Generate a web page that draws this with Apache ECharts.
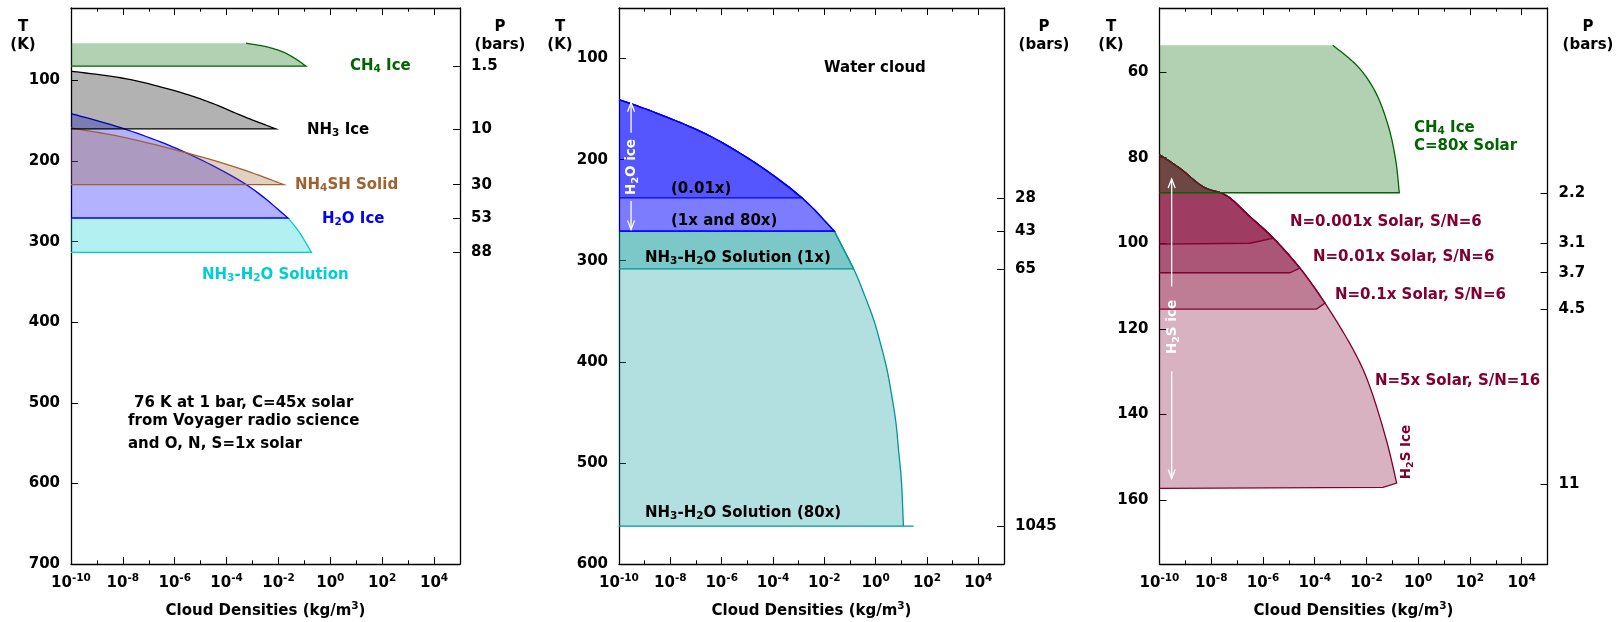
<!DOCTYPE html>
<html>
<head>
<meta charset="utf-8">
<title>Cloud densities</title>
<script src="https://cdn.jsdelivr.net/npm/echarts@6/dist/echarts.min.js"></script>
<style>
html, body { margin: 0; padding: 0; background: #fff; }
#main { width: 1623px; height: 622px; }
</style>
</head>
<body>
<div id="main"></div>
<script>
// x values: log10 of cloud density (kg/m3) ; y values: temperature (K)
// every cloud is a closed outline: (top-left corner), right edge, base, back to the left axis

// ---------- panel 1 : 76 K at 1 bar, C=45x solar ----------
var tTicks1 = [100, 200, 300, 400, 500, 600, 700];
var pTemps1 = [82.2, 160, 229.2, 270.6, 313.3];
var pLabels1 = ['1.5', '10', '30', '53', '88'];
var ch4Ice1 = [[-10, 53.7], [-3.25, 53.7], [-2.45, 58.2], [-1.81, 64.8], [-1.30, 73.9], [-0.94, 82.2], [-10, 82.2]];
var nh3Ice1 = [[-10, 88.4], [-7.86, 97.9], [-5.94, 113.3], [-4.65, 127], [-3.37, 144.3], [-2.47, 155.5], [-2.11, 160], [-10, 160]];
var nh4shSolid1 = [[-10, 158.8], [-7.86, 171.2], [-5.30, 191.9], [-3.37, 210.6], [-1.80, 229.2], [-10, 229.2]];
var h2oIce1 = [[-10, 141], [-7.86, 160.9], [-5.55, 189.8], [-3.24, 229.2], [-1.63, 270.6], [-10, 270.6]];
var solution1 = [[-10, 270.6], [-1.63, 270.6], [-1.18, 289], [-0.73, 313.3], [-10, 313.3]];

// ---------- panel 2 : water cloud ----------
var tTicks2 = [100, 200, 300, 400, 500, 600];
var pTemps2 = [237.8, 270.8, 308, 562.6];
var pLabels2 = ['28', '43', '65', '1045'];
var h2oIce001x = [[-10, 140.6], [-8.39, 155.4], [-6.44, 176.9], [-4.50, 206.5], [-2.87, 237.8], [-10, 237.8]];
var h2oIce1x80x = [[-10, 140.6], [-8.39, 155.4], [-6.44, 176.9], [-4.50, 206.5], [-2.87, 237.8], [-1.61, 270.8], [-10, 270.8]];
var solution1x = [[-10, 270.8], [-1.61, 270.8], [-0.86, 308], [-10, 308]];
var solution80x = [[-10, 270.8], [-1.61, 270.8], [-0.86, 308], [-0.47, 331.7], [-0.08, 358.2], [0.18, 381.2],
  [0.44, 407.6], [0.63, 434], [0.79, 460.3], [0.89, 486.7], [0.99, 513.2], [1.04, 536.2], [1.08, 562.6],
  [1.48, 562.6], [-10, 562.6]];
var h2oArrowUp = [[-9.53, 173.5], [-9.53, 143.8]];
var h2oArrowDown = [[-9.53, 241], [-9.53, 269]];

// ---------- panel 3 : C=80x, H2S ice ----------
var tTicks3 = [60, 80, 100, 120, 140, 160];
var pTemps3 = [88.2, 100, 106.9, 115.4, 156.3];
var pLabels3 = ['2.2', '3.1', '3.7', '4.5', '11'];
var ch4Ice3 = [[-10, 53.7], [-3.30, 53.7], [-2.33, 58.7], [-1.63, 64.9], [-1.15, 72.7], [-0.87, 80.5], [-0.73, 88.2], [-10, 88.2]];
var h2sN0001 = [[-10, 79.3], [-9.21, 82.5], [-8.31, 86.8], [-7.40, 88.9], [-6.50, 93.8], [-5.60, 98.8], [-6.50, 100], [-10, 100.2]];
var h2sN001 = [[-10, 79.3], [-9.21, 82.5], [-8.31, 86.8], [-7.40, 88.9], [-6.50, 93.8], [-5.60, 98.8], [-4.57, 105.8],
  [-4.96, 106.9], [-10, 106.9]];
var h2sN01 = [[-10, 79.3], [-9.21, 82.5], [-8.31, 86.8], [-7.40, 88.9], [-6.50, 93.8], [-5.60, 98.8], [-4.57, 105.8],
  [-3.60, 114.0], [-3.93, 115.4], [-10, 115.4]];
var h2sN5 = [[-10, 79.3], [-9.21, 82.5], [-8.31, 86.8], [-7.40, 88.9], [-6.50, 93.8], [-5.60, 98.8], [-4.57, 105.8],
  [-3.60, 114.0], [-2.51, 124.9], [-1.87, 133.5], [-1.23, 146], [-0.83, 156.1], [-1.36, 157.1], [-10, 157.3]];
var h2sArrowUp = [[-9.53, 110.1], [-9.53, 85]];
var h2sArrowDown = [[-9.53, 130], [-9.53, 155]];

// colours
var GREEN = '#006400', BLACK = '#000000', BROWN = '#9e6230', BLUE = '#0000ff',
    CYAN = '#00ced1', TEAL = '#009696', MAROON = '#800033';
function fade(hex) {
  var n = parseInt(hex.slice(1), 16);
  return 'rgba(' + (n >> 16) + ',' + ((n >> 8) & 255) + ',' + (n & 255) + ',0.3)';
}

var FONT = '"DejaVu Sans", sans-serif';
var FS = 15;
var sup = { fontSize: 10.5, lineHeight: 10, verticalAlign: 'top', fontWeight: 'bold', fontFamily: FONT };
var sub = { fontSize: 10.5, lineHeight: 10, verticalAlign: 'bottom', fontWeight: 'bold', fontFamily: FONT };

function pow10(v) {
  var e = Math.round(v);
  if (e % 2 !== 0) return '';
  return '10{p|' + e + '}';
}

var panels = [
  { left: 71, width: 389, tMin: 10, tMax: 700, tTicks: tTicks1, pTemps: pTemps1, pLabels: pLabels1 },
  { left: 619, width: 385, tMin: 50, tMax: 600, tTicks: tTicks2, pTemps: pTemps2, pLabels: pLabels2 },
  { left: 1159.5, width: 388, tMin: 45, tMax: 175, tTicks: tTicks3, pTemps: pTemps3, pLabels: pLabels3 }
];

var axisLine = { show: true, onZero: false, lineStyle: { color: '#000', width: 1.3 } };
var labelStyle = { color: '#000', fontFamily: FONT, fontWeight: 'bold', fontSize: FS };

var grids = [], xAxes = [], yAxes = [];
panels.forEach(function (p, gi) {
  grids.push({ left: p.left, width: p.width, top: 8, height: 556, containLabel: false, outerBoundsMode: 'none' });
  ['bottom', 'top'].forEach(function (pos) {
    xAxes.push({
      type: 'value', gridIndex: gi, position: pos, min: -10, max: 5, interval: 2,
      axisLine: axisLine,
      axisTick: { inside: true, length: 7, lineStyle: { color: '#000', width: 1 } },
      minorTick: { show: true, splitNumber: 2, length: 3.7, lineStyle: { color: '#000', width: 1 } },
      splitLine: { show: false },
      axisLabel: pos === 'bottom'
        ? Object.assign({ margin: 9, lineHeight: 20, formatter: pow10, rich: { p: sup } }, labelStyle)
        : { show: false },
      name: pos === 'bottom' ? 'Cloud Densities (kg/m{p|3})' : '',
      nameLocation: 'middle', nameGap: 37,
      nameTextStyle: Object.assign({ lineHeight: 20, rich: { p: sup } }, labelStyle)
    });
  });
  yAxes.push({
    type: 'value', gridIndex: gi, position: 'left', inverse: true, min: p.tMin, max: p.tMax,
    axisLine: axisLine,
    axisTick: { inside: true, length: 7, customValues: p.tTicks, lineStyle: { color: '#000', width: 1 } },
    axisLabel: Object.assign({ margin: 11, customValues: p.tTicks }, labelStyle),
    splitLine: { show: false }
  });
  yAxes.push({
    type: 'value', gridIndex: gi, position: 'right', inverse: true, min: p.tMin, max: p.tMax,
    axisLine: axisLine,
    axisTick: { inside: true, length: 7, customValues: p.pTemps, lineStyle: { color: '#000', width: 1 } },
    axisLabel: Object.assign({
      margin: 11, customValues: p.pTemps,
      formatter: function (v) {
        for (var i = 0; i < p.pTemps.length; i++) {
          if (Math.abs(p.pTemps[i] - v) < 0.01) return p.pLabels[i];
        }
        return '';
      }
    }, labelStyle),
    splitLine: { show: false }
  });
});

// catmull-rom smoothing of the curved edge, done on the pixel points
function smooth(c) {
  if (c.length < 3) return c.slice();
  var out = [c[0]];
  for (var i = 0; i < c.length - 1; i++) {
    var p0 = c[Math.max(i - 1, 0)], p1 = c[i], p2 = c[i + 1], p3 = c[Math.min(i + 2, c.length - 1)];
    var c1 = [p1[0] + (p2[0] - p0[0]) / 6, p1[1] + (p2[1] - p0[1]) / 6];
    var c2 = [p2[0] - (p3[0] - p1[0]) / 6, p2[1] - (p3[1] - p1[1]) / 6];
    for (var k = 1; k <= 12; k++) {
      var t = k / 12, u = 1 - t;
      out.push([
        u * u * u * p1[0] + 3 * u * u * t * c1[0] + 3 * u * t * t * c2[0] + t * t * t * p2[0],
        u * u * u * p1[1] + 3 * u * u * t * c1[1] + 3 * u * t * t * c2[1] + t * t * t * p2[1]
      ]);
    }
  }
  return out;
}

// head: leading straight points (unstroked top edge), tail: trailing straight points (base)
function cloud(gi, pts, color, head, tail) {
  head = head || 0;
  tail = tail || 1;
  return {
    type: 'custom', xAxisIndex: gi * 2, yAxisIndex: gi * 2, silent: true,
    data: pts,
    renderItem: function (params, api) {
      if (params.dataIndex !== 0) return null;
      var xy = pts.map(function (d) { return api.coord(d); });
      var edge = smooth(xy.slice(head, xy.length - tail)).concat(xy.slice(xy.length - tail));
      var outline = xy.slice(0, head).concat(edge);
      return {
        type: 'group', children: [
          { type: 'polygon', shape: { points: outline }, style: { fill: fade(color), stroke: null } },
          { type: 'polyline', shape: { points: edge }, style: { stroke: color, lineWidth: 1.3, fill: null } }
        ]
      };
    }
  };
}

function arrow(gi, pts) {
  return {
    type: 'custom', xAxisIndex: gi * 2, yAxisIndex: gi * 2, silent: true,
    data: pts,
    renderItem: function (params, api) {
      if (params.dataIndex !== 0) return null;
      var a = api.coord(pts[0]), b = api.coord(pts[1]);
      var dir = b[1] > a[1] ? 1 : -1;
      return {
        type: 'group', children: [
          { type: 'line', shape: { x1: a[0], y1: a[1], x2: b[0], y2: b[1] }, style: { stroke: '#fff', lineWidth: 1.3 } },
          { type: 'polyline', shape: { points: [[b[0] - 3.5, b[1] - dir * 9], [b[0], b[1]], [b[0] + 3.5, b[1] - dir * 9]] },
            style: { stroke: '#fff', lineWidth: 1.3, fill: null } }
        ]
      };
    }
  };
}

var series = [
  cloud(0, solution1, CYAN, 1),
  cloud(0, h2oIce1, BLUE),
  cloud(0, nh4shSolid1, BROWN),
  cloud(0, nh3Ice1, BLACK),
  cloud(0, ch4Ice1, GREEN, 1),

  cloud(1, solution80x, TEAL, 1, 2),
  cloud(1, solution1x, TEAL, 1),
  cloud(1, h2oIce1x80x, BLUE),
  cloud(1, h2oIce1x80x, BLUE),
  cloud(1, h2oIce001x, BLUE),
  arrow(1, h2oArrowUp),
  arrow(1, h2oArrowDown),

  cloud(2, h2sN5, MAROON, 0, 2),
  cloud(2, h2sN01, MAROON, 0, 2),
  cloud(2, h2sN001, MAROON, 0, 2),
  cloud(2, h2sN0001, MAROON, 0, 2),
  cloud(2, ch4Ice3, GREEN, 1),
  arrow(2, h2sArrowUp),
  arrow(2, h2sArrowDown)
];

// text annotations (pixel placement); {b|..} = subscript
var notes = [
  { text: 'T', x: 23, y: 27, align: 'center' }, { text: '(K)', x: 23, y: 45, align: 'center' },
  { text: 'P', x: 500, y: 27, align: 'center' }, { text: '(bars)', x: 500, y: 45, align: 'center' },
  { text: 'T', x: 560, y: 27, align: 'center' }, { text: '(K)', x: 560, y: 45, align: 'center' },
  { text: 'P', x: 1044, y: 27, align: 'center' }, { text: '(bars)', x: 1044, y: 45, align: 'center' },
  { text: 'T', x: 1111, y: 27, align: 'center' }, { text: '(K)', x: 1111, y: 45, align: 'center' },
  { text: 'P', x: 1588, y: 27, align: 'center' }, { text: '(bars)', x: 1588, y: 45, align: 'center' },

  { text: 'CH{b|4} Ice', x: 350, y: 66, color: GREEN },
  { text: 'NH{b|3} Ice', x: 307, y: 130, color: BLACK },
  { text: 'NH{b|4}SH Solid', x: 295, y: 185, color: BROWN },
  { text: 'H{b|2}O Ice', x: 322, y: 219, color: BLUE },
  { text: 'NH{b|3}-H{b|2}O Solution', x: 202, y: 275, color: CYAN },
  { text: '76 K at 1 bar, C=45x solar', x: 134, y: 403 },
  { text: 'from Voyager radio science', x: 128, y: 421 },
  { text: 'and O, N, S=1x solar', x: 128, y: 444 },

  { text: 'Water cloud', x: 824, y: 68 },
  { text: '(0.01x)', x: 671, y: 189 },
  { text: '(1x and 80x)', x: 671, y: 221 },
  { text: 'NH{b|3}-H{b|2}O Solution (1x)', x: 645, y: 258 },
  { text: 'NH{b|3}-H{b|2}O Solution (80x)', x: 645, y: 513 },
  { text: 'H{b|2}O ice', x: 631, y: 167, color: '#fff', align: 'center', rotate: true, size: 13.5 },

  { text: 'CH{b|4} Ice', x: 1414, y: 128, color: GREEN },
  { text: 'C=80x Solar', x: 1414, y: 146, color: GREEN },
  { text: 'N=0.001x Solar, S/N=6', x: 1290, y: 222, color: MAROON },
  { text: 'N=0.01x Solar, S/N=6', x: 1313, y: 257, color: MAROON },
  { text: 'N=0.1x Solar, S/N=6', x: 1335, y: 295, color: MAROON },
  { text: 'N=5x Solar, S/N=16', x: 1375, y: 381, color: MAROON },
  { text: 'H{b|2}S Ice', x: 1406, y: 452, color: MAROON, align: 'center', rotate: true, size: 13.5 },
  { text: 'H{b|2}S ice', x: 1172, y: 327, color: '#fff', align: 'center', rotate: true, size: 13.5 }
];

var graphic = notes.map(function (n) {
  var size = n.size || FS;
  var color = n.color || '#000';
  return {
    type: 'text', x: n.x, y: n.y, rotation: n.rotate ? Math.PI / 2 : 0, silent: true, z: 100,
    style: {
      text: n.text, fill: color,
      font: 'bold ' + size + 'px ' + FONT, lineHeight: 18,
      align: n.align || 'left', verticalAlign: 'middle',
      rich: { b: Object.assign({}, sub, { fill: color, fontSize: size * 0.7 }) }
    }
  };
});

var myChart = echarts.init(document.getElementById('main'), null, { renderer: 'canvas' });
myChart.setOption({
  animation: false,
  backgroundColor: '#fff',
  grid: grids,
  xAxis: xAxes,
  yAxis: yAxes,
  series: series,
  graphic: graphic
});
</script>
</body>
</html>
